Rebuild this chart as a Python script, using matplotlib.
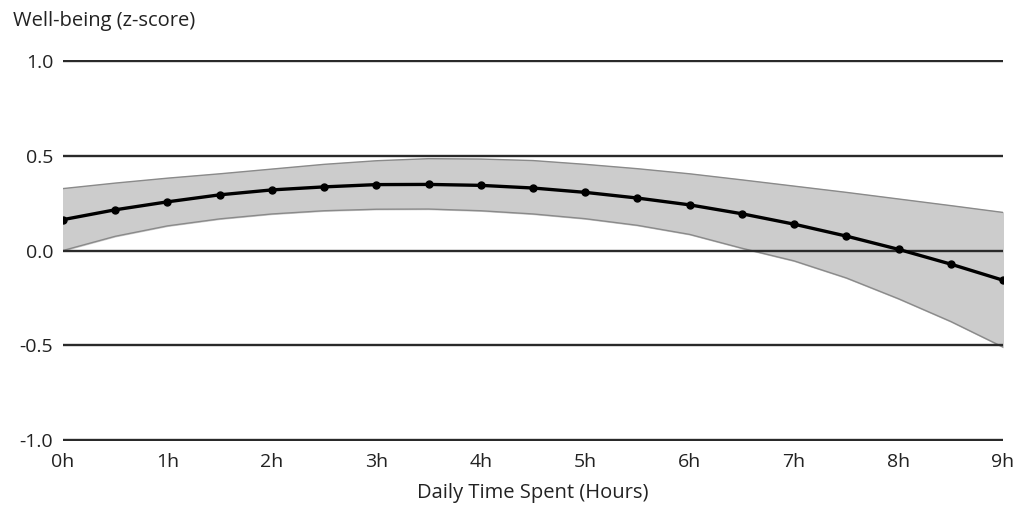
import matplotlib.pyplot as plt

plt.rcParams["font.family"] = ["Open Sans", "DejaVu Sans"]

hours = [0, 0.5, 1, 1.5, 2, 2.5, 3, 3.5, 4, 4.5, 5, 5.5, 6, 6.5, 7, 7.5, 8, 8.5, 9]
wellbeing = [0.163, 0.215, 0.257, 0.294, 0.320, 0.336, 0.348, 0.349, 0.344, 0.330,
             0.307, 0.277, 0.241, 0.194, 0.139, 0.076, 0.006, -0.072, -0.157]
upper = [0.327, 0.356, 0.382, 0.405, 0.430, 0.455, 0.474, 0.485, 0.483, 0.475,
         0.455, 0.432, 0.405, 0.373, 0.340, 0.307, 0.272, 0.237, 0.201]
lower = [0.0, 0.075, 0.130, 0.167, 0.193, 0.210, 0.218, 0.219, 0.210, 0.193,
         0.168, 0.133, 0.085, 0.012, -0.055, -0.145, -0.255, -0.375, -0.51]

y_ticks = [-1.0, -0.5, 0.0, 0.5, 1.0]
x_ticks = list(range(10))
x_labels = [f"{h}h" for h in x_ticks]

fig = plt.figure(figsize=(10.31, 5.09), dpi=100)
ax = fig.add_axes([0.0611, 0.1336, 0.9118, 0.7485])

ax.fill_between(hours, lower, upper, color="#cccccc", zorder=1)
ax.plot(hours, upper, color="#8a8a8a", lw=1.0, zorder=1.5)
ax.plot(hours, lower, color="#8a8a8a", lw=1.0, zorder=1.5)

ax.plot(hours, wellbeing, color="black", lw=2.4, marker="o", markersize=5, zorder=3)

ax.set_xlim(0, 9)
ax.set_ylim(-1.006, 1.006)
ax.set_yticks(y_ticks)
ax.set_yticklabels([f"{v:.1f}" for v in y_ticks])
ax.set_xticks(x_ticks)
ax.set_xticklabels(x_labels)

ax.set_axisbelow(False)
ax.grid(axis="y", color="#2a2a2a", lw=1.7)
for s in ax.spines.values():
    s.set_visible(False)
ax.tick_params(axis="both", length=0, labelsize=14, colors="#222222")
ax.tick_params(axis="y", pad=7)
ax.tick_params(axis="x", pad=9)

ax.set_xlabel("Daily Time Spent (Hours)", fontsize=14.5, color="#222222", labelpad=8)
fig.text(0.013, 0.958, "Well-being (z-score)", fontsize=14.5, color="#222222",
         ha="left", va="center")

plt.savefig("out.png", dpi=100)
